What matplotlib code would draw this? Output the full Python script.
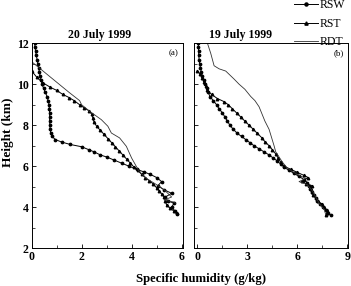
import matplotlib
matplotlib.use("Agg")
import matplotlib.pyplot as plt
from matplotlib.ticker import MultipleLocator

plt.rcParams["font.family"] = ["Liberation Serif", "DejaVu Serif"]

# 20 July 1999 (a)
a_rsw_x = [0.12, 0.14, 0.16, 0.19, 0.22, 0.25, 0.28, 0.31, 0.34, 0.38, 0.42, 0.48, 0.55, 0.62,
           0.66, 0.70, 0.71, 0.72, 0.72, 0.72, 0.73, 0.74, 0.77, 0.82, 0.95, 1.2, 1.55, 2.0,
           2.3, 2.5, 2.75, 3.0, 3.3, 3.6, 3.9, 4.2, 4.5, 4.75, 5.0, 5.2, 5.05, 5.3, 5.6, 5.35,
           5.45, 5.7, 5.6, 5.75, 5.8]
a_rsw_y = [12.0, 11.8, 11.6, 11.4, 11.2, 11.0, 10.8, 10.6, 10.4, 10.2, 10.0, 9.8, 9.6, 9.4,
           9.2, 9.0, 8.8, 8.6, 8.4, 8.2, 8.0, 7.8, 7.6, 7.45, 7.3, 7.18, 7.06, 6.95,
           6.8, 6.7, 6.55, 6.45, 6.3, 6.15, 6.0, 5.85, 5.72, 5.6, 5.45, 5.25, 5.05, 4.85, 4.68, 4.5,
           4.3, 4.2, 4.0, 3.8, 3.65]
a_rst_x = [0.0, 0.2, 0.45, 0.75, 1.0, 1.25, 1.5, 1.7, 1.92, 2.1, 2.3, 2.4, 2.45, 2.5, 2.6,
           2.75, 2.9, 3.05, 3.2, 3.35, 3.5, 3.65, 3.8, 3.95, 4.1, 4.25, 4.4, 4.55, 4.7, 4.85,
           5.0, 5.1, 5.2, 5.3, 5.35, 5.4, 5.55, 5.7, 5.8]
a_rst_y = [10.65, 10.35, 10.07, 9.85, 9.7, 9.5, 9.35, 9.2, 9.0, 8.85, 8.7, 8.55, 8.35, 8.15, 7.95,
           7.75, 7.55, 7.35, 7.15, 6.95, 6.75, 6.55, 6.35, 6.15, 5.95, 5.8, 5.6, 5.45, 5.3, 5.15,
           4.95, 4.8, 4.65, 4.5, 4.3, 4.1, 3.95, 3.8, 3.7]
a_rdt_x = [0.0, 0.5, 1.0, 1.5, 1.92, 2.0, 2.32, 2.79, 3.05, 3.19, 3.52, 3.79, 4.0, 4.3, 4.6,
           5.0, 5.3, 5.6, 5.3, 5.7, 5.75]
a_rdt_y = [11.1, 10.6, 10.1, 9.6, 9.2, 9.0, 8.68, 8.27, 7.95, 7.62, 7.38, 6.97, 6.4, 5.75, 5.4,
           5.1, 4.85, 4.5, 4.35, 4.25, 4.2]

# 19 July 1999 (b)
b_rsw_x = [0.05, 0.06, 0.07, 0.08, 0.1, 0.13, 0.18, 0.23, 0.3, 0.38, 0.47, 0.55, 0.65, 0.75,
           0.95, 1.15, 1.3, 1.5, 1.65, 1.8, 1.95, 2.15, 2.4, 2.65, 2.9, 3.15, 3.4, 3.7, 4.0,
           4.3, 4.55, 4.8, 5.0, 5.2, 5.5, 5.8, 6.1, 6.4, 6.6, 6.7, 6.75, 6.9, 7.0, 7.1, 7.2,
           7.35, 7.55, 7.7, 7.85, 8.0]
b_rsw_y = [12.0, 11.8, 11.6, 11.4, 11.2, 11.0, 10.8, 10.6, 10.4, 10.2, 10.0, 9.8, 9.6, 9.4,
           9.2, 9.0, 8.8, 8.6, 8.4, 8.2, 8.0, 7.8, 7.6, 7.45, 7.3, 7.15, 7.0, 6.85, 6.7,
           6.55, 6.4, 6.25, 6.1, 5.95, 5.8, 5.65, 5.5, 5.35, 5.2, 5.05, 4.9, 4.75, 4.6, 4.45, 4.3,
           4.15, 4.0, 3.85, 3.7, 3.6]
b_rst_x = [0.0, 0.15, 0.3, 0.4, 0.5, 0.6, 0.85, 1.2, 1.6, 1.85, 2.1, 2.35, 2.6, 2.85, 3.1,
           3.35, 3.6, 3.85, 4.05, 4.3, 4.5, 4.7, 4.85, 5.0, 5.2, 5.6, 6.0, 6.4, 6.65, 6.3, 6.5,
           6.9, 6.8, 6.85, 6.95, 7.1, 7.25, 7.45, 7.6, 7.75, 7.8, 7.7]
b_rst_y = [10.65, 10.5, 10.3, 10.1, 9.9, 9.7, 9.5, 9.3, 9.15, 9.0, 8.8, 8.6, 8.4, 8.2, 8.0,
           7.8, 7.6, 7.4, 7.2, 7.0, 6.8, 6.6, 6.4, 6.2, 6.0, 5.85, 5.7, 5.55, 5.45, 5.3, 5.15,
           5.05, 4.9, 4.75, 4.6, 4.45, 4.3, 4.15, 4.0, 3.85, 3.7, 3.6]
b_rdt_x = [0.6, 0.8, 1.0, 1.3, 1.7, 2.2, 2.5, 2.85, 3.2, 3.45, 3.7, 3.85, 4.05, 4.3, 4.45,
           4.6, 4.7, 4.9, 5.1, 5.35, 5.6, 6.0, 6.5, 6.1, 6.6, 6.9, 7.1, 7.3, 7.6, 7.7]
b_rdt_y = [12.0, 11.5, 10.9, 10.75, 10.64, 10.25, 10.0, 9.75, 9.4, 9.2, 8.9, 8.6, 8.2, 7.8, 7.4,
           7.0, 6.7, 6.45, 6.2, 5.95, 5.8, 5.6, 5.4, 5.25, 5.1, 4.8, 4.5, 4.2, 3.9, 3.65]

fig = plt.figure(figsize=(3.51, 2.86), dpi=100)
ax1 = fig.add_axes([0.090, 0.132, 0.431, 0.717])
ax2 = fig.add_axes([0.553, 0.132, 0.439, 0.717])

for ax, rsw, rst, rdt in [(ax1, (a_rsw_x, a_rsw_y), (a_rst_x, a_rst_y), (a_rdt_x, a_rdt_y)),
                          (ax2, (b_rsw_x, b_rsw_y), (b_rst_x, b_rst_y), (b_rdt_x, b_rdt_y))]:
    ax.plot(rsw[0], rsw[1], color="black", lw=0.7, marker="o", ms=1.7, label="RSW")
    ax.plot(rst[0], rst[1], color="black", lw=0.7, marker="^", ms=1.8, label="RST")
    ax.plot(rdt[0], rdt[1], color="#333333", lw=0.6, label="RDT")
    ax.set_ylim(2, 12)
    ax.yaxis.set_major_locator(MultipleLocator(2))
    ax.yaxis.set_minor_locator(MultipleLocator(1))
    ax.tick_params(which="both", direction="in", top=False, right=False)
    ax.tick_params(which="major", length=3, width=0.6, labelsize=8.5, pad=2)
    ax.tick_params(which="minor", length=2, width=0.5)
    for s in ax.spines.values():
        s.set_linewidth(0.7)

ax1.set_xlim(0, 6.05)
ax1.xaxis.set_major_locator(MultipleLocator(2))
ax1.xaxis.set_minor_locator(MultipleLocator(1))
ax2.set_xlim(-0.2, 9.05)
ax2.xaxis.set_major_locator(MultipleLocator(3))
ax2.xaxis.set_minor_locator(MultipleLocator(1.5))
ax2.tick_params(labelleft=False)
for ax in (ax1, ax2):
    for lab in ax.get_xticklabels() + ax.get_yticklabels():
        lab.set_fontweight("bold")

ax1.text(0.45, 1.01, "20 July 1999", transform=ax1.transAxes, ha="center", va="bottom",
         fontsize=8.5, fontweight="bold")
ax2.text(0.30, 1.01, "19 July 1999", transform=ax2.transAxes, ha="center", va="bottom",
         fontsize=8.5, fontweight="bold")
ax1.text(0.97, 0.97, "(a)", transform=ax1.transAxes, ha="right", va="top", fontsize=6.5)
ax2.text(0.97, 0.97, "(b)", transform=ax2.transAxes, ha="right", va="top", fontsize=6.5)
fig.text(0.022, 0.537, "Height (km)", rotation=90, ha="center", va="center",
         fontsize=9.5, fontweight="bold")
fig.text(0.573, 0.024, "Specific humidity (g/kg)", ha="center", va="center",
         fontsize=9.2, fontweight="bold")

h, l = ax1.get_legend_handles_labels()
fig.legend(h, l, loc="upper right", bbox_to_anchor=(1.01, 1.035), frameon=False,
           fontsize=8.5, handlelength=2.0, labelspacing=0.55, handletextpad=0.15,
           borderpad=0.3, numpoints=1, markerscale=1.3)

plt.savefig("out.png", dpi=100)
